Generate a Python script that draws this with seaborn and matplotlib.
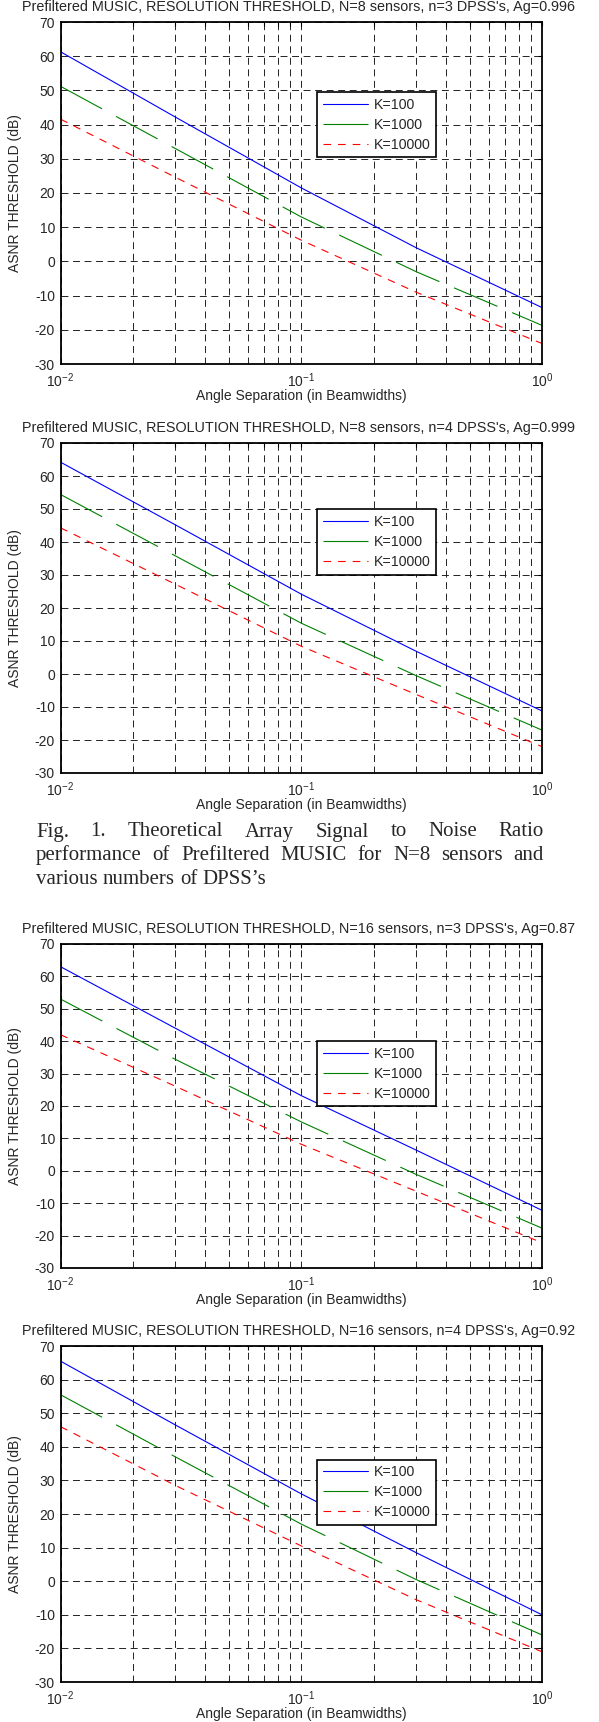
import numpy as np
import pandas as pd
import matplotlib
matplotlib.use("Agg")
import matplotlib.pyplot as plt
import seaborn as sns
from matplotlib.ticker import FixedLocator, NullFormatter

sns.set_style("white")
plt.rcParams["font.family"] = ["Liberation Sans", "DejaVu Sans"]
plt.rcParams["mathtext.fontset"] = "custom"
plt.rcParams["mathtext.rm"] = "Liberation Sans"
plt.rcParams["mathtext.it"] = "Liberation Sans:italic"
plt.rcParams["lines.scale_dashes"] = False

# data (threshold in dB vs angle separation)
angle_sep = [0.01, 0.03, 0.1, 0.3, 1.0]
k_labels = ["K=100", "K=1000", "K=10000"]

p1_k100 = [61.3, 42.2, 21.5, 4.0, -13.5]
p1_k1000 = [51.2, 33.0, 13.0, -3.0, -18.7]
p1_k10000 = [41.6, 24.6, 6.2, -9.0, -24.0]

p2_k100 = [64.2, 45.2, 24.2, 6.9, -11.2]
p2_k1000 = [54.4, 35.8, 15.4, -0.5, -17.0]
p2_k10000 = [44.3, 27.2, 8.4, -6.2, -22.0]

p3_k100 = [63.0, 44.0, 23.2, 6.4, -12.2]
p3_k1000 = [53.0, 34.4, 15.1, -1.1, -17.7]
p3_k10000 = [42.0, 26.1, 8.2, -6.3, -22.2]

p4_k100 = [65.5, 46.5, 26.0, 8.5, -10.0]
p4_k1000 = [55.5, 37.0, 17.0, 0.5, -16.0]
p4_k10000 = [46.0, 28.5, 10.5, -5.5, -21.0]

titles = [
    "Prefiltered MUSIC, RESOLUTION THRESHOLD, N=8 sensors, n=3 DPSS's, Ag=0.996",
    "Prefiltered MUSIC, RESOLUTION THRESHOLD, N=8 sensors, n=4 DPSS's, Ag=0.999",
    "Prefiltered MUSIC, RESOLUTION THRESHOLD, N=16 sensors, n=3 DPSS's, Ag=0.87",
    "Prefiltered MUSIC, RESOLUTION THRESHOLD, N=16 sensors, n=4 DPSS's, Ag=0.92",
]
panels = [
    [p1_k100, p1_k1000, p1_k10000],
    [p2_k100, p2_k1000, p2_k10000],
    [p3_k100, p3_k1000, p3_k10000],
    [p4_k100, p4_k1000, p4_k10000],
]
legend_level = [40, 40, 30, 26.5]
xticks = [0.01, 0.1, 1]
xticklabels = [r"$10^{-2}$", r"$10^{-1}$", r"$10^{0}$"]
yticks = list(range(-30, 71, 10))

caption_lines = [
    "Fig. 1. Theoretical Array Signal to Noise Ratio",
    "performance of Prefiltered MUSIC for N=8 sensors and",
    "various numbers of DPSS\u2019s",
]

W, H = 599, 1722
fig = plt.figure(figsize=(W / 100, H / 100), dpi=100)

# axes extents in pixels (top, bottom)
boxes = [(22, 364), (443, 773), (944, 1268), (1346, 1682)]
ax_left, ax_right = 60.5, 542

colors = ["#0000ff", "#008000", "#ff0000"]
styles = ["-", (0, (34, 11.5)), (0, (5.5, 5))]
grid_ls = (0, (5, 3.3))
fs = 10
fs_title = 10.4

minor = [m * 10.0 ** e for e in (-2, -1) for m in range(2, 10)]

for i, (top, bot) in enumerate(boxes):
    ax = fig.add_axes([ax_left / W, 1 - bot / H, (ax_right - ax_left) / W, (bot - top) / H])
    df = pd.DataFrame({"sep": angle_sep * 3,
                       "asnr": panels[i][0] + panels[i][1] + panels[i][2],
                       "K": np.repeat(k_labels, len(angle_sep))})
    for j, k in enumerate(k_labels):
        sns.lineplot(data=df[df["K"] == k], x="sep", y="asnr", ax=ax, color=colors[j],
                     linestyle=styles[j], linewidth=0.8, label=k, legend=False)
    ax.set_xscale("log")
    ax.set_xlim(0.01, 1)
    ax.set_ylim(-30, 70)
    ax.xaxis.set_major_locator(FixedLocator(xticks))
    ax.set_xticklabels(xticklabels)
    ax.xaxis.set_minor_locator(FixedLocator(minor))
    ax.xaxis.set_minor_formatter(NullFormatter())
    ax.set_yticks(yticks)
    ax.set_yticklabels([str(v) for v in yticks])
    ax.tick_params(which="both", direction="in", top=True, right=True, length=3,
                   width=0.8, color="black", labelsize=fs)
    ax.tick_params(axis="x", which="major", pad=5)
    ax.tick_params(axis="y", which="major", pad=4)
    ax.grid(True, axis="x", which="both", color="#222222", linestyle=grid_ls, linewidth=0.7)
    ax.grid(True, axis="y", which="major", color="#222222", linestyle=grid_ls, linewidth=0.7)
    for s in ax.spines.values():
        s.set_color("black")
        s.set_linewidth(1.3)
    ax.set_xlabel("")
    ax.set_ylabel("")

    cx = (ax_left + ax_right) / 2 / W
    fig.text(cx - 3 / W, 1 - (top - 15) / H, titles[i], ha="center", va="center",
             fontsize=fs_title)
    fig.text(cx, 1 - (bot + 32) / H, "Angle Separation (in Beamwidths)",
             ha="center", va="center", fontsize=fs)
    fig.text(15 / W, 1 - (top + bot) / 2 / H, "ASNR THRESHOLD (dB)", rotation=90,
             ha="center", va="center", fontsize=fs)

    leg_y = top + (70 - legend_level[i]) * (bot - top) / 100
    leg = ax.legend(loc="center left", bbox_to_anchor=(317 / W, 1 - leg_y / H),
                    bbox_transform=fig.transFigure, borderaxespad=0, fontsize=10.2,
                    frameon=True, fancybox=False, framealpha=1, edgecolor="black",
                    handlelength=3.2, handletextpad=0.4, borderpad=0.4, labelspacing=0.42)
    leg.get_frame().set_linewidth(1.2)

# justified caption between panel 2 and 3
renderer = fig.canvas.get_renderer()
cap_left, cap_right = 36, 544
cap_y = [832, 855, 879]
space_w = fig.text(0, 0, " ", fontsize=15, family="Liberation Serif").get_window_extent(renderer).width
for n, line in enumerate(caption_lines):
    words = line.split(" ")
    objs = [fig.text(0, 1 - cap_y[n] / H, w, ha="left", va="center", fontsize=15,
                     family="Liberation Serif") for w in words]
    widths = [o.get_window_extent(renderer).width for o in objs]
    if n < len(caption_lines) - 1:
        gap = (cap_right - cap_left - sum(widths)) / (len(words) - 1)
    else:
        gap = space_w
    x = cap_left
    for o, w in zip(objs, widths):
        o.set_x(x / W)
        x += w + gap

fig.savefig("out.png", dpi=100)
